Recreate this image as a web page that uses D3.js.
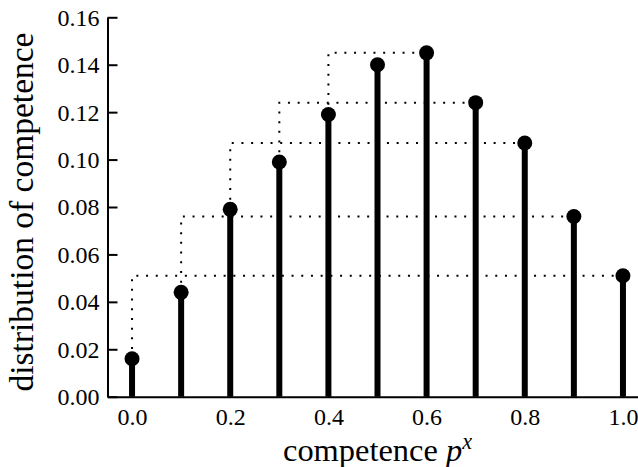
<!DOCTYPE html>
<html>
<head>
<meta charset="utf-8">
<script src="https://cdnjs.cloudflare.com/ajax/libs/d3/7.8.5/d3.min.js"></script>
<style>
  body { margin: 0; background: #fff; }
  svg { display: block; }
</style>
</head>
<body>
<svg id="chart" width="638" height="467"></svg>
<script>
// competence levels and their distribution
var competence = [0.0, 0.1, 0.2, 0.3, 0.4, 0.5, 0.6, 0.7, 0.8, 0.9, 1.0];
var distribution = [0.016, 0.044, 0.079, 0.099, 0.119, 0.140, 0.145, 0.124, 0.107, 0.076, 0.051];
var xTicks = [0.0, 0.2, 0.4, 0.6, 0.8, 1.0];
var yTicks = [0.00, 0.02, 0.04, 0.06, 0.08, 0.10, 0.12, 0.14, 0.16];

var serif = "Liberation Serif";

var svg = d3.select("#chart");

var x = d3.scaleLinear()
    .domain([-0.05, 1.05])
    .range([107.5, 647.5]);
var y = d3.scaleLinear()
    .domain([0, 0.16])
    .range([396.7, 17.3]);

var points = competence.map(function (c, i) { return { c: c, v: distribution[i], i: i } });

// dotted steps: from point i up to the level of its mirror point, then across to it
var pairs = points.filter(function (d) { return d.i < 5 });
svg.append("g")
    .selectAll("path")
    .data(pairs)
    .enter()
    .append("path")
    .attr("d", function (d) {
        var m = points[10 - d.i];
        return "M" + x(d.c) + "," + y(d.v) + "V" + y(m.v) + "H" + x(m.c);
    })
    .attr("fill", "none")
    .attr("stroke", "#000")
    .attr("stroke-width", 2)
    .attr("stroke-dasharray", "2,7.7");

// axes
var yAxis = d3.axisLeft(y)
    .tickValues(yTicks)
    .tickFormat(d3.format(".2f"))
    .tickSizeInner(-10)
    .tickSizeOuter(0)
    .tickPadding(8);
var xAxis = d3.axisBottom(x)
    .tickValues(xTicks)
    .tickFormat(d3.format(".1f"))
    .tickSizeInner(-10)
    .tickSizeOuter(0)
    .tickPadding(11);

var gy = svg.append("g")
    .attr("transform", "translate(" + x(-0.05) + ",0)")
    .call(yAxis);
var gx = svg.append("g")
    .attr("transform", "translate(0," + y(0) + ")")
    .call(xAxis);

[gx, gy].forEach(function (g) {
    g.attr("font-family", serif).attr("font-size", 23);
    g.selectAll(".domain").attr("stroke", "#000").attr("stroke-width", 2);
    g.selectAll(".tick line").attr("stroke", "#000").attr("stroke-width", 2);
    g.selectAll(".tick text").attr("fill", "#000");
});
gy.selectAll(".tick text").attr("dy", "0.33em");

// tick font: "0.14" is about 42px wide in the reference
var probe = gy.selectAll(".tick text").filter(function (d) { return d === 0.14 });
var w14 = probe.node().getComputedTextLength();
var tickSize = 23 * 42 / w14;
gx.attr("font-size", tickSize);
gy.attr("font-size", tickSize);

// stems
svg.append("g")
    .selectAll("line")
    .data(points)
    .enter()
    .append("line")
    .attr("x1", function (d) { return x(d.c) })
    .attr("x2", function (d) { return x(d.c) })
    .attr("y1", y(0))
    .attr("y2", function (d) { return y(d.v) })
    .attr("stroke", "#000")
    .attr("stroke-width", 6);

// markers
svg.append("g")
    .selectAll("circle")
    .data(points)
    .enter()
    .append("circle")
    .attr("cx", function (d) { return x(d.c) })
    .attr("cy", function (d) { return y(d.v) })
    .attr("r", 7.5)
    .style("fill", "#000");

// axis labels, sized to the widths
var xl = svg.append("text")
    .attr("x", (x(-0.05) + x(1.05)) / 2)
    .attr("y", 461)
    .attr("text-anchor", "middle")
    .attr("font-family", serif)
    .attr("font-size", 31);
var xw = xl.append("tspan").text("competence");
xl.append("tspan").text(" ");
xl.append("tspan").attr("font-style", "italic").text("p");
xl.append("tspan").attr("dy", -12).attr("font-size", "0.68em").attr("font-style", "italic").text("x");
var cw = xw.node().getComputedTextLength();
xl.attr("font-size", 31 * 155 / cw);

var yl = svg.append("text")
    .attr("transform", "translate(33,212) rotate(-90)")
    .attr("text-anchor", "middle")
    .attr("font-family", serif)
    .attr("font-size", 31)
    .text("distribution of competence");
var yw = yl.node().getComputedTextLength();
yl.attr("font-size", 31 * 359 / yw);
</script>
</body>
</html>
